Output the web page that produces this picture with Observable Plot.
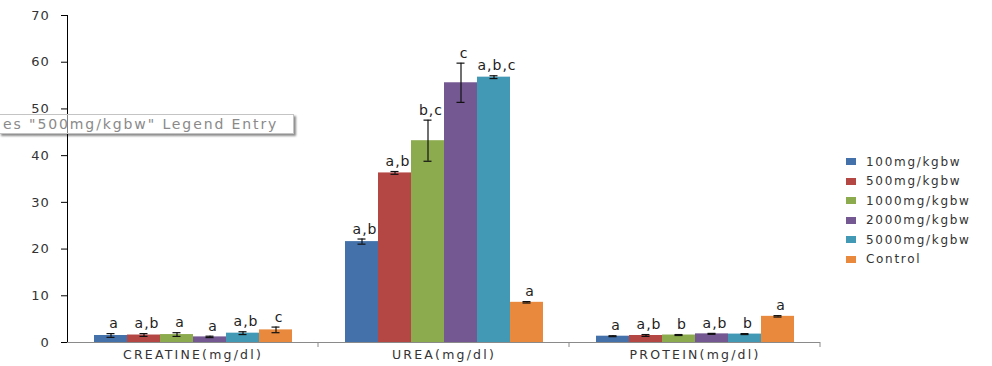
<!DOCTYPE html>
<html>
<head>
<meta charset="utf-8">
<script src="https://cdn.jsdelivr.net/npm/d3@7"></script>
<script src="https://cdn.jsdelivr.net/npm/@observablehq/plot@0.6"></script>
<style>
  html, body { margin: 0; padding: 0; background: #fff; }
  #wrap { position: relative; width: 992px; height: 366px; overflow: hidden; font-family: "DejaVu Sans", sans-serif; }
  #chart svg { display: block; }
  #legend { position: absolute; left: 846px; top: 152px; font-size: 12px; color: #333; letter-spacing: 1.7px; }
  #legend .row { height: 19.5px; display: flex; align-items: center; white-space: nowrap; }
  #legend .sw { width: 10px; height: 7px; margin-right: 10px; }
  #tip { position: absolute; left: -1px; top: 114px; width: 290px; height: 18px; border: 1px solid #c4c4c4;
         background: rgba(255,255,255,0.5); color: #8a8a8a; font-size: 14px; letter-spacing: 1.9px; line-height: 18px;
         box-shadow: 2px 2px 2px rgba(0,0,0,0.45); white-space: nowrap; padding-left: 3px; box-sizing: content-box; }
</style>
</head>
<body>
<div id="wrap">
  <div id="chart"></div>
  <div id="legend"></div>
  <div id="tip">es "500mg/kgbw" Legend Entry</div>
</div>
<script>
// Dose groups and measured parameters
const categories = ["CREATINE(mg/dl)", "UREA(mg/dl)", "PROTEIN(mg/dl)"];
const groups = ["100mg/kgbw", "500mg/kgbw", "1000mg/kgbw", "2000mg/kgbw", "5000mg/kgbw", "Control"];
const colors = ["#4471a9", "#b44744", "#8cab4e", "#735891", "#4299b5", "#e8893d"];

// Means, standard errors and significance letters per dose group
const creatine = [1.5, 1.6, 1.7, 1.2, 2.0, 2.7];
const creatineErr = [0.4, 0.3, 0.4, 0.15, 0.3, 0.6];
const creatineSig = ["a", "a,b", "a", "a", "a,b", "c"];

const urea = [21.6, 36.3, 43.2, 55.6, 56.8, 8.6];
const ureaErr = [0.55, 0.3, 4.4, 4.2, 0.3, 0.15];
const ureaSig = ["a,b", "a,b", "b,c", "c", "a,b,c", "a"];

const protein = [1.35, 1.5, 1.6, 1.85, 1.8, 5.6];
const proteinErr = [0.1, 0.2, 0.1, 0.1, 0.1, 0.15];
const proteinSig = ["a", "a,b", "b", "a,b", "b", "a"];

const yTicks = [0, 10, 20, 30, 40, 50, 60, 70];

const series = [
  [creatine, creatineErr, creatineSig],
  [urea, ureaErr, ureaSig],
  [protein, proteinErr, proteinSig]
];
const rows = [];
categories.forEach((cat, ci) => {
  const [vals, errs, sig] = series[ci];
  groups.forEach((g, gi) => {
    rows.push({cat, group: g, value: vals[gi], lo: vals[gi] - errs[gi], hi: vals[gi] + errs[gi], sig: sig[gi]});
  });
});

const plot = Plot.plot({
  width: 992,
  height: 366,
  marginLeft: 66,
  marginRight: 172,
  marginTop: 15,
  marginBottom: 24,
  style: {fontFamily: "DejaVu Sans, sans-serif", background: "transparent"},
  fx: {domain: categories, padding: 0, axis: "bottom", label: null, tickSize: 0, tickPadding: 8},
  x: {domain: groups, paddingInner: 0, paddingOuter: 0.76, axis: null},
  y: {domain: [0, 70], ticks: yTicks, label: null, tickSize: 6, tickPadding: 12, line: true},
  color: {domain: groups, range: colors},
  marks: [
    Plot.barY(rows, {fx: "cat", x: "group", y: "value", fill: "group", inset: 0}),
    Plot.ruleY([0], {stroke: "#8a8a8a"}),
    Plot.ruleX(rows, {fx: "cat", x: "group", y1: "lo", y2: "hi", stroke: "#111", strokeWidth: 1.2}),
    Plot.tickY(rows, {fx: "cat", x: "group", y: "hi", stroke: "#111", strokeWidth: 1.2, insetLeft: 12.5, insetRight: 12.5}),
    Plot.tickY(rows, {fx: "cat", x: "group", y: "lo", stroke: "#111", strokeWidth: 1.2, insetLeft: 12.5, insetRight: 12.5}),
    Plot.text(rows, {fx: "cat", x: "group", y: "hi", text: "sig", dy: -10, dx: 3, fontSize: 14, fill: "#222"})
  ]
});

// axis styling
const svg = d3.select(plot);
svg.selectAll("[aria-label='y-axis tick'], [aria-label='y-axis line']").attr("stroke", "#8a8a8a");
svg.selectAll("[aria-label='y-axis tick label'] text")
  .attr("font-size", 13).attr("fill", "#333").style("letter-spacing", "0.8px");
svg.selectAll("[aria-label='fx-axis tick label'] text")
  .attr("font-size", 12.5).attr("fill", "#333").style("letter-spacing", "2.2px");
svg.selectAll("[aria-label='text'] text").style("letter-spacing", "1px");

// small tick marks at the category boundaries along the baseline
const fx = plot.scale("fx");
const yS = plot.scale("y");
const y0 = yS.apply(0);
const bounds = categories.map(c => fx.apply(c) + fx.bandwidth);
svg.append("g").selectAll("line").data(bounds).join("line")
  .attr("x1", d => d).attr("x2", d => d)
  .attr("y1", y0).attr("y2", y0 + 5)
  .attr("stroke", "#8a8a8a");

document.getElementById("chart").append(plot);

// legend
const legend = d3.select("#legend");
groups.forEach((g, i) => {
  const row = legend.append("div").attr("class", "row");
  row.append("div").attr("class", "sw").style("background", colors[i]);
  row.append("span").text(g);
});
</script>
</body>
</html>
